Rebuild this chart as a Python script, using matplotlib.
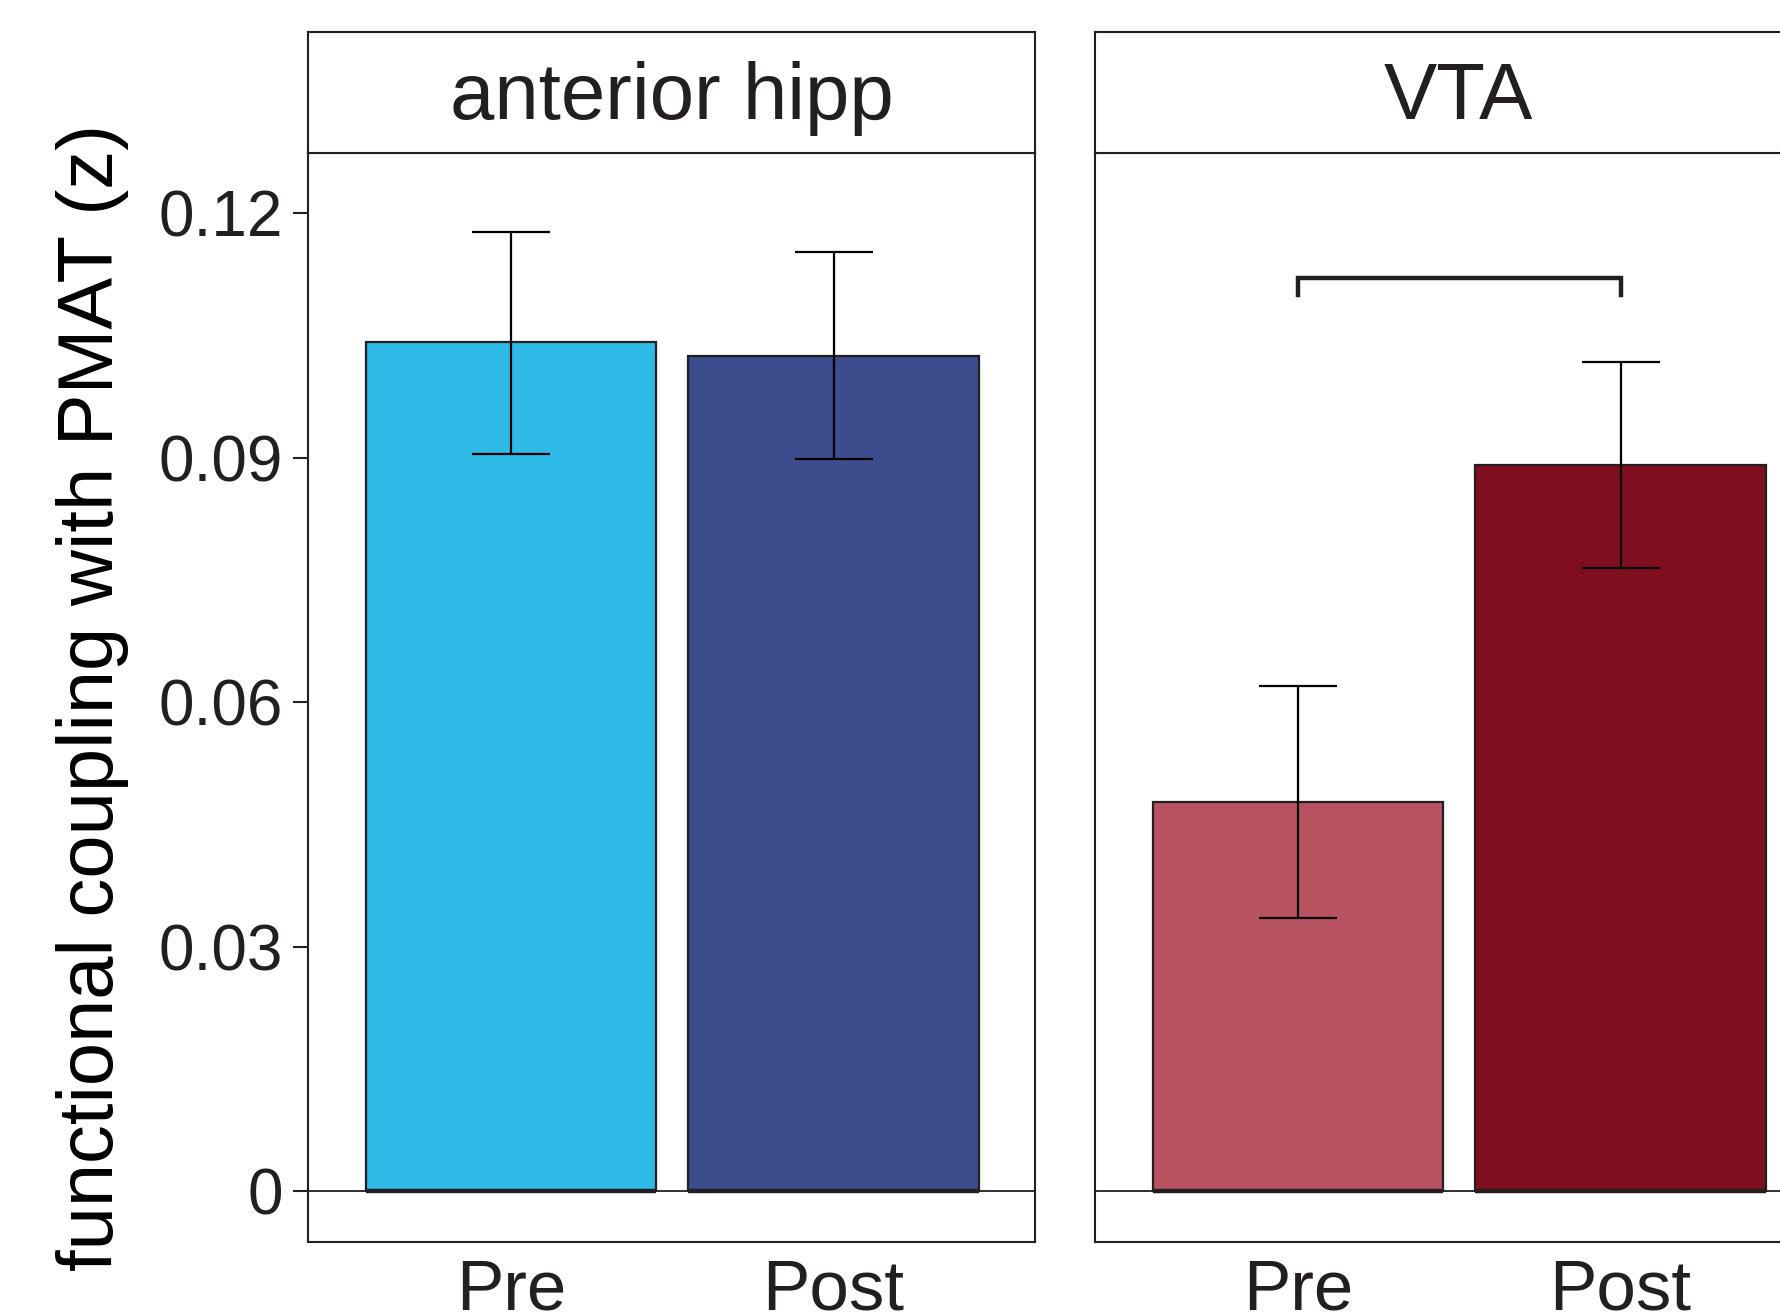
import matplotlib.pyplot as plt
import numpy as np

plt.rcParams['font.family'] = ['Liberation Sans', 'DejaVu Sans']

panels = ['anterior hipp', 'VTA']
conditions = ['Pre', 'Post']
means = {'anterior hipp': [0.1042, 0.1025], 'VTA': [0.0477, 0.0891]}
err_hi = {'anterior hipp': [0.1177, 0.1152], 'VTA': [0.0620, 0.1017]}
err_lo = {'anterior hipp': [0.0905, 0.0898], 'VTA': [0.0335, 0.0765]}
colors = {'anterior hipp': ['#2EBBE8', '#3C4C8C'], 'VTA': ['#B95260', '#7F0E1E']}
yticks = [0, 0.03, 0.06, 0.09, 0.12]
ytick_labels = ['0', '0.03', '0.06', '0.09', '0.12']
bracket_y = 0.1121
bracket_drop = 0.0021

dark = '#231F20'
bar_w = 0.9

fig = plt.figure(figsize=(17.81, 13.15), dpi=100)
lefts = [308 / 1781, 1095 / 1781]
w = 727 / 1781
bottom = 1 - 1242 / 1315
h = (1242 - 153) / 1315
strip_h = (153 - 32) / 1315

x = np.arange(1, len(conditions) + 1)

for i, name in enumerate(panels):
    ax = fig.add_axes([lefts[i], bottom, w, h])
    m = np.array(means[name])
    ax.bar(x, m, width=bar_w, color=colors[name], edgecolor=dark, linewidth=1.6, zorder=2)
    ax.axhline(0, color=dark, lw=1.3, zorder=3)
    # thicker base under each bar, like the original
    ax.hlines(np.zeros(len(x)), x - bar_w / 2, x + bar_w / 2, color=dark, lw=3.2, zorder=3)
    yerr = np.vstack([m - np.array(err_lo[name]), np.array(err_hi[name]) - m])
    ax.errorbar(x, m, yerr=yerr, fmt='none', ecolor='black', elinewidth=1.6,
                capsize=28, capthick=1.6, zorder=4)
    ax.set_xlim(0.37, 2.625)
    ax.set_ylim(-0.00626, 0.1274)
    ax.set_xticks(x)
    ax.set_xticklabels(conditions, fontsize=51, color=dark)
    ax.tick_params(axis='x', length=0, pad=12)
    ax.set_yticks(yticks)
    if i == 0:
        ax.set_yticklabels(ytick_labels, fontsize=46, color=dark)
        ax.tick_params(axis='y', length=11, width=1.5, color=dark, pad=7)
        ax.set_ylabel('functional coupling with PMAT (z)', fontsize=56, color='black', labelpad=21)
    else:
        ax.tick_params(axis='y', length=0, labelleft=False)
        ax.plot([1, 1, 2, 2], [bracket_y - bracket_drop, bracket_y, bracket_y, bracket_y - bracket_drop],
                color=dark, lw=3.2, solid_joinstyle='miter', zorder=4)
    for s in ax.spines.values():
        s.set_color(dark)
        s.set_linewidth(1.5)

    st = fig.add_axes([lefts[i], 1 - 153 / 1315, w, strip_h])
    st.set_xticks([])
    st.set_yticks([])
    for s in st.spines.values():
        s.set_color(dark)
        s.set_linewidth(1.5)
    st.text(0.5, 0.45, name, ha='center', va='center', fontsize=57.5, color=dark,
            transform=st.transAxes)

fig.savefig('out.png', dpi=100)
